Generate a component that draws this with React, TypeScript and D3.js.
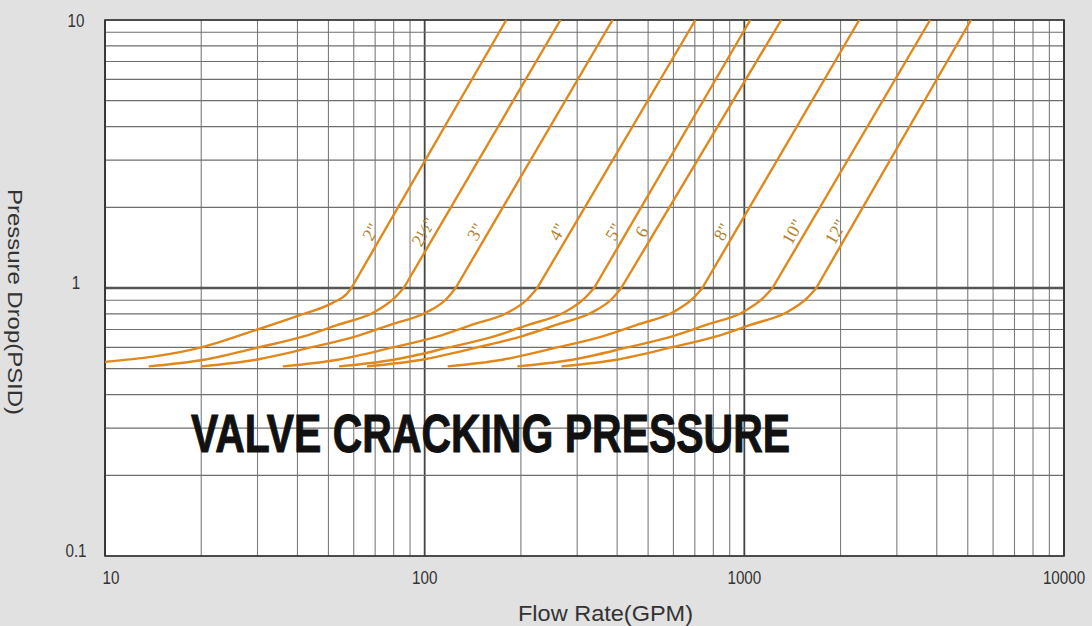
import React, { useEffect, useRef } from 'react';
import * as d3 from 'd3';

// axis ticks
const flowTicks = [10, 100, 1000, 10000];
const psidTicks = [0.1, 1, 10];

// valve sizes, in the order of the curves (left to right)
const valveNames = ['2"', '2½"', '3"', '4"', '5"', '6', '8"', '10"', '12"'];

// pressure drop (PSID); last value is where the line leaves the chart top
const psid2 = [0.53, 0.6, 0.7, 0.79, 0.88, 0.95, 1.0, 10];
const psidCurve = [0.51, 0.54, 0.6, 0.66, 0.73, 0.81, 0.91, 1.0, 10];

// flow rate (GPM) for each valve size, matched to the pressures above
const flow2 = [10, 20, 30, 40.5, 51.5, 57, 59, 180];
const flow2h = [13.7, 20.4, 30.2, 41.8, 53.7, 69.2, 79.9, 86, 266];
const flow3 = [20, 29.7, 44.1, 61, 78.4, 101, 117, 125, 387];
const flow4 = [36, 53.5, 79.5, 110, 141, 182, 210, 225, 703];
const flow5 = [54, 80, 119, 165, 212, 273, 315, 339, 1044];
const flow6 = [66, 98, 146, 201, 259, 333, 385, 412, 1305];
const flow8 = [118, 175, 260, 360, 463, 596, 688, 739, 2288];
const flow10 = [195, 290, 430, 595, 764, 985, 1137, 1225, 3812];
const flow12 = [268, 398, 591, 817, 1050, 1353, 1562, 1679, 5120];

// where the size labels sit on the steep part
const labelPsid = 1.62;

const W = 1092, H = 626;
const sans = "'Liberation Sans', Arial, sans-serif";

export default function App() {
    const ref = useRef<SVGSVGElement>(null);

    useEffect(() => {
        const svg = d3.select(ref.current);
        svg.selectAll('*').remove();

        const x = d3.scaleLog().domain([10, 10000]).range([105, 1064]);
        const y = d3.scaleLog().domain([0.1, 10]).range([556, 20]);

        svg.append('rect').attr('width', W).attr('height', H).attr('fill', '#e1e1e1');
        svg.append('rect')
            .attr('x', x(10)).attr('y', y(10))
            .attr('width', x(10000) - x(10)).attr('height', y(0.1) - y(10))
            .attr('fill', '#fff');

        const isMajor = (v: number) => Math.abs(Math.log10(v) - Math.round(Math.log10(v))) < 1e-6;

        // grid
        const grid = svg.append('g');
        grid.selectAll('line.v')
            .data(x.ticks())
            .enter().append('line')
            .attr('x1', d => x(d)).attr('x2', d => x(d))
            .attr('y1', y(10)).attr('y2', y(0.1))
            .attr('stroke', d => isMajor(d) ? '#444' : '#7c7c7c')
            .attr('stroke-width', d => isMajor(d) ? 1.8 : 1.1);
        grid.selectAll('line.h')
            .data(y.ticks())
            .enter().append('line')
            .attr('y1', d => y(d)).attr('y2', d => y(d))
            .attr('x1', x(10)).attr('x2', x(10000))
            .attr('stroke', d => d === 1 ? '#555' : '#6e6e6e')
            .attr('stroke-width', d => d === 1 ? 2.6 : 1.2);

        // frame
        svg.append('rect')
            .attr('x', x(10)).attr('y', y(10))
            .attr('width', x(10000) - x(10)).attr('height', y(0.1) - y(10))
            .attr('fill', 'none').attr('stroke', '#333').attr('stroke-width', 1.6);

        // tick labels (condensed by squeezing horizontally)
        svg.append('g').selectAll('text')
            .data(flowTicks)
            .enter().append('text')
            .attr('transform', d => `translate(${x(d) + (d === 10 ? 6 : 0)},584) scale(0.8,1)`)
            .attr('text-anchor', 'middle')
            .style('font-family', sans)
            .style('font-size', '19px')
            .attr('fill', '#333')
            .text(d => String(d));

        svg.append('g').selectAll('text')
            .data(psidTicks)
            .enter().append('text')
            .attr('transform', d => `translate(76,${Math.max(y(d) - 6, 20) + 7}) scale(0.8,1)`)
            .attr('text-anchor', 'middle')
            .style('font-family', sans)
            .style('font-size', '19px')
            .attr('fill', '#333')
            .text(d => String(d));

        // axis titles
        svg.append('text')
            .attr('x', 518).attr('y', 621)
            .attr('textLength', 175).attr('lengthAdjust', 'spacingAndGlyphs')
            .style('font-family', sans)
            .style('font-size', '22px')
            .attr('fill', '#333')
            .text('Flow Rate(GPM)');
        svg.append('text')
            .attr('transform', 'translate(8, 302) rotate(90)')
            .attr('text-anchor', 'middle')
            .attr('textLength', 226).attr('lengthAdjust', 'spacingAndGlyphs')
            .style('font-family', sans)
            .style('font-size', '21px')
            .attr('fill', '#333')
            .text('Pressure Drop(PSID)');

        // curves
        const series = [
            { name: valveNames[0], flow: flow2, psid: psid2 },
            { name: valveNames[1], flow: flow2h, psid: psidCurve },
            { name: valveNames[2], flow: flow3, psid: psidCurve },
            { name: valveNames[3], flow: flow4, psid: psidCurve },
            { name: valveNames[4], flow: flow5, psid: psidCurve },
            { name: valveNames[5], flow: flow6, psid: psidCurve },
            { name: valveNames[6], flow: flow8, psid: psidCurve },
            { name: valveNames[7], flow: flow10, psid: psidCurve },
            { name: valveNames[8], flow: flow12, psid: psidCurve },
        ];

        const lower = d3.line<[number, number]>()
            .x(d => x(d[0]))
            .y(d => y(d[1]))
            .curve(d3.curveMonotoneX);

        const curves = svg.append('g');
        series.forEach(s => {
            const pts: [number, number][] = s.flow.map((f, i) => [f, s.psid[i]]);
            const top = pts[pts.length - 1];
            const bottom = pts.slice(0, pts.length - 1);
            curves.append('path')
                .attr('d', lower(bottom) + `L${x(top[0])},${y(top[1])}`)
                .attr('fill', 'none')
                .attr('stroke', '#e0881c')
                .attr('stroke-width', 2.4)
                .attr('stroke-linejoin', 'round');

            // label beside the steep part
            const brk = bottom[bottom.length - 1];
            const t = (Math.log10(labelPsid) - Math.log10(brk[1])) / (Math.log10(top[1]) - Math.log10(brk[1]));
            const lf = Math.pow(10, Math.log10(brk[0]) + t * (Math.log10(top[0]) - Math.log10(brk[0])));
            const lx = x(lf) - 13, ly = y(labelPsid);
            curves.append('text')
                .attr('transform', `translate(${lx},${ly}) rotate(-60)`)
                .attr('text-anchor', 'middle')
                .attr('dominant-baseline', 'central')
                .style('font-family', "'Liberation Serif', 'Times New Roman', serif")
                .style('font-size', '18px')
                .attr('fill', '#b5822c')
                .text(s.name);
        });

        // big caption
        svg.append('text')
            .attr('x', 191).attr('y', 452)
            .attr('textLength', 599).attr('lengthAdjust', 'spacingAndGlyphs')
            .style('font-family', sans)
            .style('font-weight', 'bold')
            .style('font-size', '54px')
            .attr('fill', '#111')
            .attr('stroke', '#111')
            .attr('stroke-width', 1)
            .text('VALVE CRACKING PRESSURE');
    }, []);

    return (
        <svg ref={ref} width={W} height={H}
            style={{ position: 'absolute', left: 0, top: 0, display: 'block' }} />
    );
}
